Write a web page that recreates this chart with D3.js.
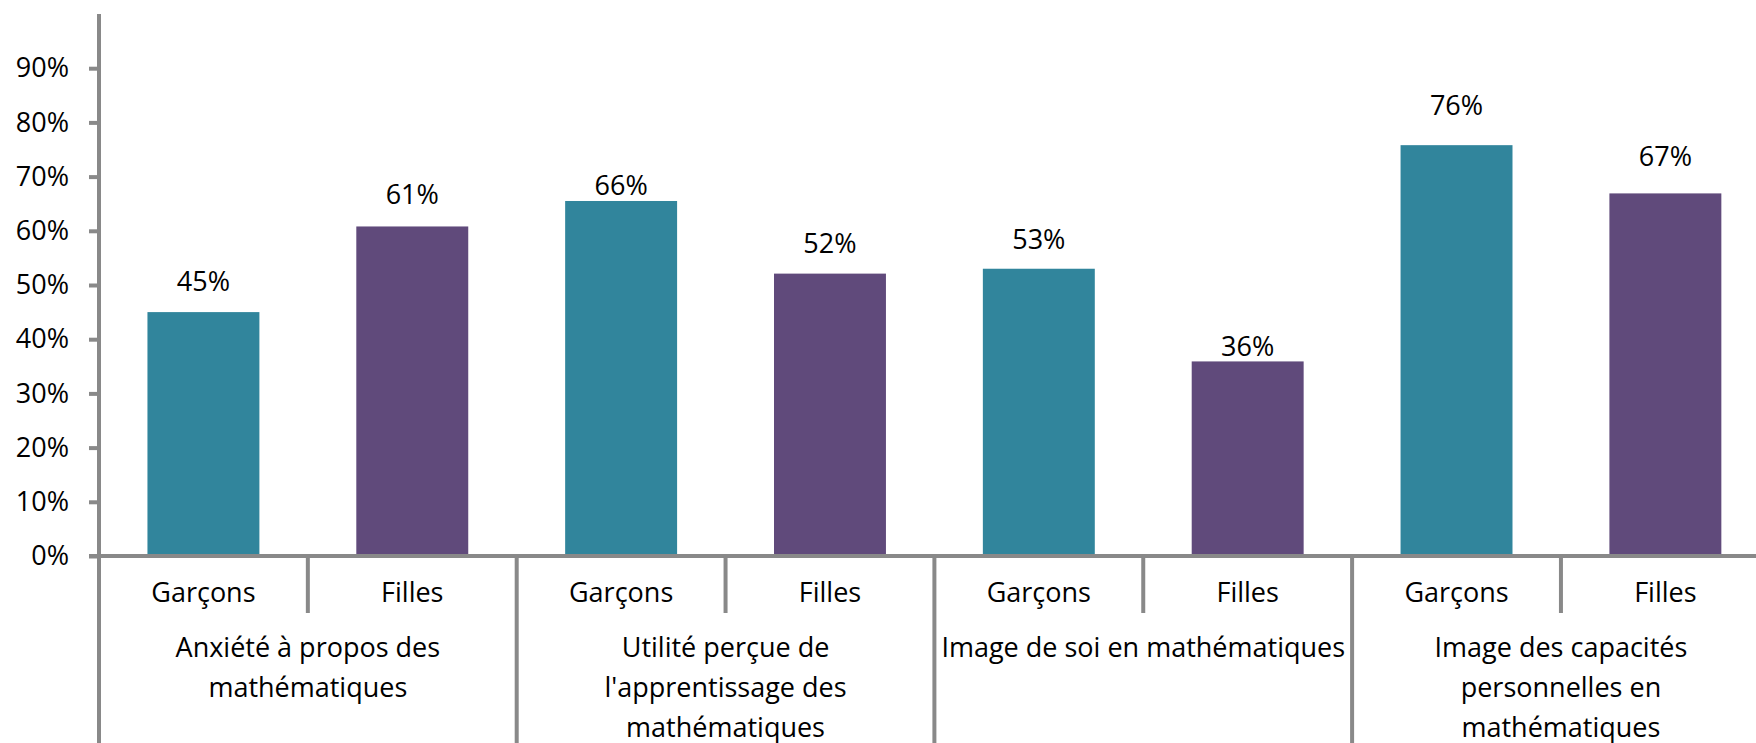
<!DOCTYPE html>
<html>
<head>
<meta charset="utf-8">
<script src="https://cdn.jsdelivr.net/npm/d3@7"></script>
<style>
  body { margin: 0; background: #fff; }
  svg { display: block; font-family: "Open Sans", sans-serif; }
</style>
</head>
<body>
<div id="chart"></div>
<script>
const groups = ['anxiete', 'utilite', 'image', 'capacites'];
const groupLines = [
  ['Anxiété à propos des', 'mathématiques'],
  ['Utilité perçue de', "l'apprentissage des", 'mathématiques'],
  ['Image de soi en mathématiques'],
  ['Image des capacités', 'personnelles en', 'mathématiques']
];
const genders = ['Garçons', 'Filles'];
const garcons = [45, 65.5, 53, 75.8];
const filles = [60.8, 52.1, 35.9, 66.9];
const yTicks = [0, 10, 20, 30, 40, 50, 60, 70, 80, 90];

// label lift above bar top, as placed in the original
const liftG = [21, 6, 20, 30];
const liftF = [22, 21, 5, 27];

const width = 1756;
const height = 743;
const plotLeft = 99;
const groupW = 417.7;
const plotTop = 14;
const base = 556;
const grey = '#898989';
const colors = { 'Garçons': '#31859c', 'Filles': '#604a7b' };

const x = d3.scaleBand().domain(groups).range([plotLeft, plotLeft + groupW * groups.length]);
const xSub = d3.scaleBand().domain(genders).range([0, x.bandwidth()]);
const barW = xSub.bandwidth() * 0.536;
const y = d3.scaleLinear().domain([0, 100]).range([base, plotTop]);

const svg = d3.create('svg')
  .attr('width', width)
  .attr('height', height);

const data = [];
groups.forEach((g, i) => {
  data.push({ g, gender: 'Garçons', v: garcons[i], lift: liftG[i] });
  data.push({ g, gender: 'Filles', v: filles[i], lift: liftF[i] });
});

const cx = d => x(d.g) + xSub(d.gender) + xSub.bandwidth() / 2;

svg.append('g')
  .selectAll('rect')
  .data(data)
  .join('rect')
  .attr('x', d => cx(d) - barW / 2)
  .attr('width', barW)
  .attr('y', d => y(d.v))
  .attr('height', d => y(0) - y(d.v))
  .attr('fill', d => colors[d.gender]);

svg.append('g')
  .selectAll('text')
  .data(data)
  .join('text')
  .attr('x', cx)
  .attr('y', d => y(d.v) - d.lift)
  .attr('text-anchor', 'middle')
  .attr('font-size', 27)
  .attr('fill', '#000')
  .text(d => Math.round(d.v) + '%');

// y axis
const yAxis = svg.append('g')
  .attr('transform', `translate(${plotLeft},0)`)
  .call(d3.axisLeft(y).tickValues(yTicks).tickSize(10).tickSizeOuter(0).tickPadding(20).tickFormat(d => d + '%'));
yAxis.select('.domain').remove();
yAxis.selectAll('line').attr('stroke', grey).attr('stroke-width', 4);
yAxis.selectAll('text').attr('font-size', 27).attr('fill', '#000').attr('font-family', '"Open Sans", sans-serif');

svg.append('line')
  .attr('x1', plotLeft).attr('x2', plotLeft)
  .attr('y1', plotTop).attr('y2', height)
  .attr('stroke', grey).attr('stroke-width', 4);

// x axis line
svg.append('line')
  .attr('x1', plotLeft - 10).attr('x2', width)
  .attr('y1', base).attr('y2', base)
  .attr('stroke', grey).attr('stroke-width', 4);

// group dividers
svg.append('g')
  .selectAll('line')
  .data(groups.slice(1).concat(['end']))
  .join('line')
  .attr('x1', (d, i) => plotLeft + groupW * (i + 1))
  .attr('x2', (d, i) => plotLeft + groupW * (i + 1))
  .attr('y1', base).attr('y2', height)
  .attr('stroke', grey).attr('stroke-width', 4);

// sub dividers
svg.append('g')
  .selectAll('line')
  .data(groups)
  .join('line')
  .attr('x1', d => x(d) + xSub('Filles'))
  .attr('x2', d => x(d) + xSub('Filles'))
  .attr('y1', base).attr('y2', 613)
  .attr('stroke', grey).attr('stroke-width', 4);

// gender labels
svg.append('g')
  .selectAll('text')
  .data(data)
  .join('text')
  .attr('x', cx)
  .attr('y', 602)
  .attr('text-anchor', 'middle')
  .attr('font-size', 27)
  .text(d => d.gender);

// group labels
const gl = svg.append('g')
  .selectAll('text')
  .data(groups)
  .join('text')
  .attr('x', d => x(d) + x.bandwidth() / 2)
  .attr('y', 657)
  .attr('text-anchor', 'middle')
  .attr('font-size', 27);
gl.selectAll('tspan')
  .data((d, i) => groupLines[i])
  .join('tspan')
  .attr('x', function () { return this.parentNode.getAttribute('x'); })
  .attr('dy', (d, i) => i === 0 ? 0 : 40)
  .text(d => d);

document.getElementById('chart').appendChild(svg.node());
</script>
</body>
</html>
